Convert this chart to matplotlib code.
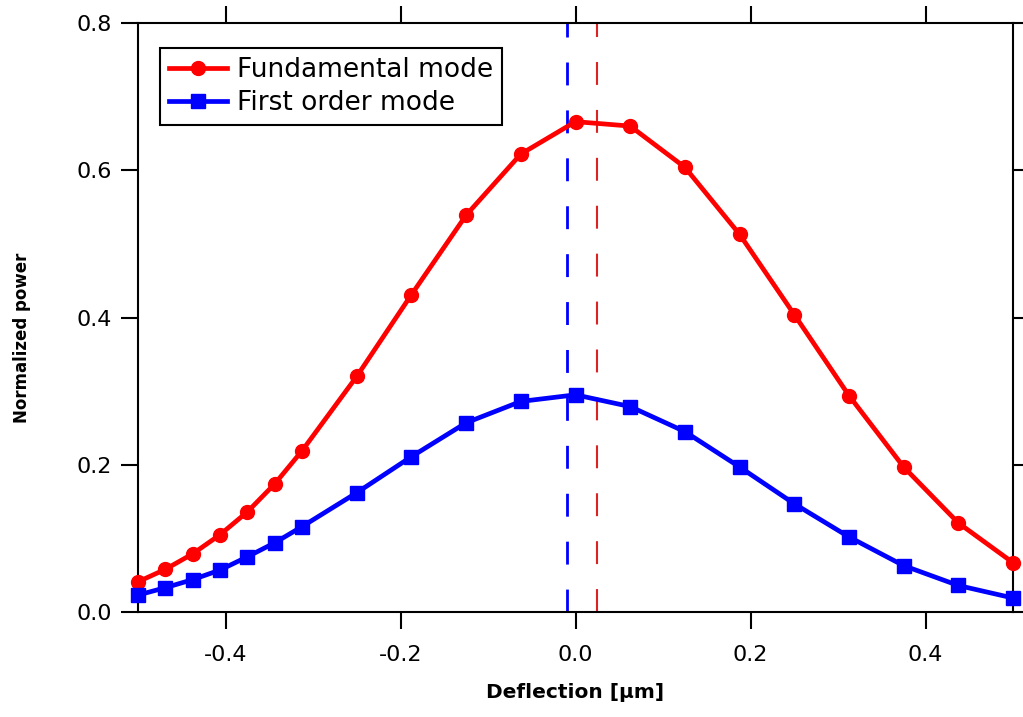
import matplotlib
matplotlib.use("Agg")
import matplotlib.pyplot as plt

plt.rcParams['font.family'] = ['DejaVu Sans']
plt.rcParams['axes.unicode_minus'] = False
plt.rcParams['lines.scale_dashes'] = False

# Data
deflection = [-0.5, -0.46875, -0.4375, -0.40625, -0.375, -0.34375, -0.3125,
              -0.25, -0.1875, -0.125, -0.0625, 0.0, 0.0625, 0.125, 0.1875,
              0.25, 0.3125, 0.375, 0.4375, 0.5]
fundamental = [0.041, 0.058, 0.079, 0.105, 0.136, 0.174, 0.219,
               0.320, 0.431, 0.539, 0.622, 0.666, 0.660, 0.604, 0.513,
               0.404, 0.294, 0.197, 0.121, 0.067]
first_order = [0.023, 0.033, 0.044, 0.057, 0.075, 0.094, 0.116,
               0.162, 0.211, 0.257, 0.286, 0.295, 0.279, 0.245, 0.197,
               0.147, 0.102, 0.063, 0.036, 0.019]
peak_first = -0.0095
peak_fund = 0.024

xticks = [-0.4, -0.2, 0.0, 0.2, 0.4]
xticklabels = ['-0.4', '-0.2', '0.0', '0.2', '0.4']
yticks = [0.0, 0.2, 0.4, 0.6, 0.8]
yticklabels = ['0.0', '0.2', '0.4', '0.6', '0.8']

fig = plt.figure(figsize=(10.23, 7.17), dpi=100)
ax = fig.add_axes([138/1023, 1-612/717, 875/1023, 589/717])

ax.axvline(peak_first, color='#0000ff', lw=2.0, dashes=(16.5, 18), zorder=1)
ax.axvline(peak_fund, color='#dd2222', lw=1.5, dashes=(16.5, 18), zorder=1)

ax.plot(deflection, fundamental, color='#ff0000', lw=3.4, marker='o',
        markersize=10, label='Fundamental mode', zorder=3, clip_on=False)
ax.plot(deflection, first_order, color='#0000ff', lw=3.4, marker='s',
        markersize=10, label='First order mode', zorder=3, clip_on=False)

ax.set_xlim(-0.5, 0.5)
ax.set_ylim(0.0, 0.8)
ax.set_xticks(xticks)
ax.set_xticklabels(xticklabels)
ax.set_yticks(yticks)
ax.set_yticklabels(yticklabels)

for s in ax.spines.values():
    s.set_linewidth(1.5)
ax.tick_params(axis='both', which='both', direction='out', length=12.5,
               width=1.5, top=True, right=True, labelsize=16)
ax.tick_params(axis='x', pad=11)
ax.tick_params(axis='y', pad=6)

ax.set_xlabel('Deflection [\u03bcm]', fontsize=14.5, fontweight='bold')
ax.xaxis.set_label_coords(0.4994, -0.1375)
ax.xaxis.label.set_va('center')
ax.set_ylabel('Normalized power', fontsize=12, fontweight='bold')
ax.yaxis.set_label_coords(-0.1326, (612-338)/589)
ax.yaxis.label.set_va('center')

leg = ax.legend(loc='upper left', bbox_to_anchor=((160-138)/875, (612-48)/589),
                borderaxespad=0, fontsize=19, numpoints=1, handlelength=2.2,
                handletextpad=0.38, borderpad=0.34, labelspacing=0.28,
                fancybox=False, framealpha=1, edgecolor='black')
leg.get_frame().set_linewidth(1.5)

fig.savefig('out.png', dpi=100)
